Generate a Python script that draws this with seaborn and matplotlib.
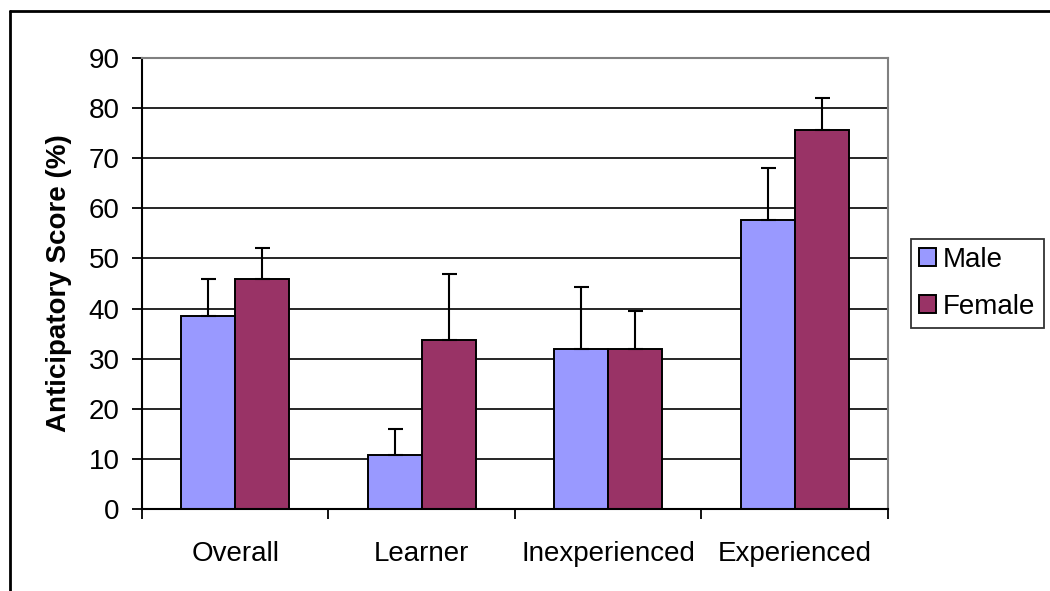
import matplotlib

matplotlib.use('Agg')

import matplotlib.pyplot as plt
import matplotlib.lines as mlines
import seaborn as sns
import numpy as np
import pandas as pd

# Datos
categories = ['Overall', 'Learner', 'Inexperienced', 'Experienced']
groups = ['Male', 'Female']
male_scores = [38.6, 10.7, 32.0, 57.6]
female_scores = [45.9, 33.8, 32.0, 75.6]
male_err = [7.3, 5.2, 12.3, 10.5]
female_err = [6.2, 13.1, 7.5, 6.5]
y_ticks = [0, 10, 20, 30, 40, 50, 60, 70, 80, 90]

colors = {
    'Male': '#9999FF',
    'Female': '#993366',
}

df = pd.DataFrame({
    'Category': categories * 2,
    'Group': ['Male'] * 4 + ['Female'] * 4,
    'Score': male_scores + female_scores,
})

sns.set_style('white')
plt.rcParams['font.family'] = ['Liberation Sans', 'DejaVu Sans']
plt.rcParams['text.color'] = 'black'
plt.rcParams['axes.labelcolor'] = 'black'
plt.rcParams['xtick.color'] = 'black'
plt.rcParams['ytick.color'] = 'black'
plt.rcParams['xtick.bottom'] = True
plt.rcParams['ytick.left'] = True

fig = plt.figure(
    figsize=(10.5, 5.91),
    dpi=100,
)

ax = fig.add_axes([0.1352, 0.1387, 0.7105, 0.7632])

sns.barplot(
    data=df,
    x='Category',
    y='Score',
    hue='Group',
    order=categories,
    hue_order=groups,
    palette=colors,
    width=0.58,
    gap=0,
    edgecolor='black',
    linewidth=1.4,
    errorbar=None,
    saturation=1,
    ax=ax,
)

# Barras de error solo hacia arriba
errs = [male_err, female_err]
for container, err in zip(ax.containers, errs):
    xs = [b.get_x() + b.get_width() / 2 for b in container]
    ys = [b.get_height() for b in container]
    ax.errorbar(
        xs,
        ys,
        yerr=[np.zeros(len(err)), err],
        fmt='none',
        ecolor='black',
        elinewidth=1.5,
        capsize=5.4,
        capthick=1.5,
        zorder=5,
    )

ax.set_ylim(0, 90)
ax.set_xlim(-0.5, 3.5)
ax.set_yticks(y_ticks)
ax.set_yticklabels([str(v) for v in y_ticks], fontsize=20)

ax.set_xticks(range(len(categories)))
ax.set_xticklabels(categories, fontsize=20)
ax.tick_params(axis='x', which='major', length=0, pad=23)
ax.set_xticks(np.arange(-0.5, 4.0, 1.0), minor=True)
ax.tick_params(axis='x', which='minor', length=7, width=1.3,
               direction='out', color='black', bottom=True)
ax.tick_params(axis='y', length=7, width=1.3, direction='out',
               color='black', pad=9, left=True)

ax.yaxis.grid(True, color='black', linewidth=1.2)
ax.xaxis.grid(False)
ax.set_axisbelow(True)

for side in ['left', 'bottom']:
    ax.spines[side].set_color('black')
    ax.spines[side].set_linewidth(1.5)
for side in ['top', 'right']:
    ax.spines[side].set_color('#808080')
    ax.spines[side].set_linewidth(1.5)

ax.set_xlabel('')
ax.set_ylabel(
    'Anticipatory Score (%)',
    fontsize=20,
    fontweight='bold',
    labelpad=12,
)

leg = ax.legend(
    title=None,
    loc='center left',
    bbox_to_anchor=(1.031, 0.5),
    fontsize=20,
    frameon=True,
    fancybox=False,
    edgecolor='black',
    handlelength=0.6,
    handleheight=0.6,
    handletextpad=0.25,
    borderpad=0.3,
    labelspacing=0.75,
    borderaxespad=0,
)
leg.get_frame().set_linewidth(1.3)

# Marco exterior del grafico (solo izquierda y arriba visibles)
fig.add_artist(mlines.Line2D([10 / 1050, 10 / 1050], [0, 1 - 11 / 591],
                             color='black', linewidth=2))
fig.add_artist(mlines.Line2D([10 / 1050, 1], [1 - 11 / 591, 1 - 11 / 591],
                             color='black', linewidth=2))

fig.savefig('out.png', dpi=100)
plt.close(fig)
